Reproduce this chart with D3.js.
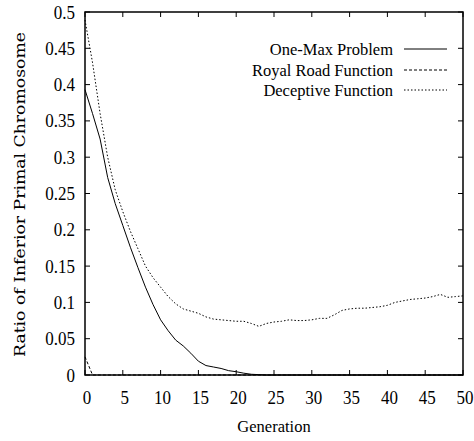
<!doctype html>
<html>
<head>
<meta charset="utf-8">
<style>
  html, body { margin: 0; padding: 0; background: #fff; }
  svg { display: block; }
</style>
<script src="https://cdnjs.cloudflare.com/ajax/libs/d3/7.8.5/d3.min.js"></script>
</head>
<body>
<script>
// generations 0..50
var generations = d3.range(0, 51);

var oneMax = [0.393, 0.360, 0.325, 0.272, 0.236, 0.206, 0.176, 0.148, 0.121, 0.097,
  0.076, 0.061, 0.048, 0.040, 0.030, 0.019, 0.013, 0.011, 0.009, 0.006,
  0.0045, 0.0025, 0.001, 0.0005, 0, 0, 0, 0, 0, 0,
  0, 0, 0, 0, 0, 0, 0, 0, 0, 0,
  0, 0, 0, 0, 0, 0, 0, 0, 0, 0, 0];

var royalRoad = [0.025, 0, 0, 0, 0, 0, 0, 0, 0, 0,
  0, 0, 0, 0, 0, 0, 0, 0, 0, 0,
  0, 0, 0, 0, 0, 0, 0, 0, 0, 0,
  0, 0, 0, 0, 0, 0, 0, 0, 0, 0,
  0, 0, 0, 0, 0, 0, 0, 0, 0, 0, 0];

var deceptive = [0.489, 0.43, 0.36, 0.30, 0.255, 0.225, 0.198, 0.174, 0.15, 0.134,
  0.121, 0.108, 0.098, 0.091, 0.088, 0.085, 0.080, 0.077, 0.076, 0.075,
  0.074, 0.074, 0.071, 0.067, 0.071, 0.073, 0.074, 0.076, 0.075, 0.075,
  0.076, 0.078, 0.078, 0.083, 0.089, 0.091, 0.092, 0.092, 0.093, 0.094,
  0.096, 0.100, 0.102, 0.104, 0.105, 0.106, 0.108, 0.111, 0.107, 0.108, 0.109];

var xTicks = d3.range(0, 51, 5);
var yTicks = [0, 0.05, 0.1, 0.15, 0.2, 0.25, 0.3, 0.35, 0.4, 0.45, 0.5];

var seriesNames = ["One-Max Problem", "Royal Road Function", "Deceptive Function"];
var seriesDash = ["none", "3,2", "1.5,2"];
var seriesData = [oneMax, royalRoad, deceptive];

var width = 474, height = 441;
var margin = {left: 85, right: 11, top: 12, bottom: 66};

var svg = d3.select("body").append("svg")
    .attr("width", width)
    .attr("height", height);

var x = d3.scaleLinear().domain([0, 50]).range([margin.left, width - margin.right]);
var y = d3.scaleLinear().domain([0, 0.5]).range([height - margin.bottom, margin.top]);

var tickLen = 5;
var serif = "Liberation Serif";

// ticks on all four sides (inward)
var axisG = svg.append("g").attr("stroke", "#000").attr("stroke-width", 1);
xTicks.forEach(function (t) {
  axisG.append("line").attr("x1", x(t)).attr("x2", x(t))
    .attr("y1", y(0)).attr("y2", y(0) - tickLen);
  axisG.append("line").attr("x1", x(t)).attr("x2", x(t))
    .attr("y1", y(0.5)).attr("y2", y(0.5) + tickLen);
});
yTicks.forEach(function (t) {
  axisG.append("line").attr("x1", x(0)).attr("x2", x(0) + tickLen)
    .attr("y1", y(t)).attr("y2", y(t));
  axisG.append("line").attr("x1", x(50)).attr("x2", x(50) - tickLen)
    .attr("y1", y(t)).attr("y2", y(t));
});

// x tick labels, slightly tall like the original postscript font
svg.selectAll(".xl").data(xTicks).enter().append("text")
  .attr("transform", function (d) { return "translate(" + (x(d) + 2) + ",404) scale(1,1.12)"; })
  .attr("text-anchor", "middle")
  .style("font-family", serif)
  .style("font-size", "17px")
  .text(function (d) { return d; });

svg.selectAll(".yl").data(yTicks).enter().append("text")
  .attr("transform", function (d) { return "translate(75," + (y(d) + 6.5) + ") scale(1,1.05)"; })
  .attr("text-anchor", "end")
  .style("font-family", serif)
  .style("font-size", "17px")
  .text(function (d) { return d; });

// curves
var line = d3.line()
  .x(function (d, i) { return x(generations[i]); })
  .y(function (d) { return y(d); });

seriesData.forEach(function (s, k) {
  svg.append("path")
    .attr("d", line(s))
    .attr("fill", "none")
    .attr("stroke", "#000")
    .attr("stroke-width", 1)
    .attr("stroke-dasharray", seriesDash[k]);
});

// frame
svg.append("rect")
  .attr("x", x(0)).attr("y", y(0.5))
  .attr("width", x(50) - x(0)).attr("height", y(0) - y(0.5))
  .attr("fill", "none").attr("stroke", "#000").attr("stroke-width", 1.5);

// legend
var legY = [49, 70, 90];
seriesNames.forEach(function (n, k) {
  svg.append("text")
    .attr("transform", "translate(393," + (legY[k] + 6) + ") scale(1,1.07)")
    .attr("text-anchor", "end")
    .style("font-family", serif)
    .style("font-size", "16.5px")
    .text(n);
  svg.append("line")
    .attr("x1", 404).attr("x2", 447)
    .attr("y1", legY[k]).attr("y2", legY[k])
    .attr("stroke", "#000").attr("stroke-width", 1)
    .attr("stroke-dasharray", seriesDash[k]);
});

// axis titles
svg.append("text")
  .attr("transform", "translate(274,432) scale(1,1.07)")
  .attr("text-anchor", "middle")
  .style("font-family", serif)
  .style("font-size", "16.5px")
  .text("Generation");

svg.append("text")
  .attr("transform", "translate(25,194.5) rotate(-90)")
  .attr("text-anchor", "middle")
  .attr("textLength", 325)
  .attr("lengthAdjust", "spacingAndGlyphs")
  .style("font-family", "DejaVu Serif")
  .style("font-size", "15px")
  .text("Ratio of Inferior Primal Chromosome");
</script>
</body>
</html>
